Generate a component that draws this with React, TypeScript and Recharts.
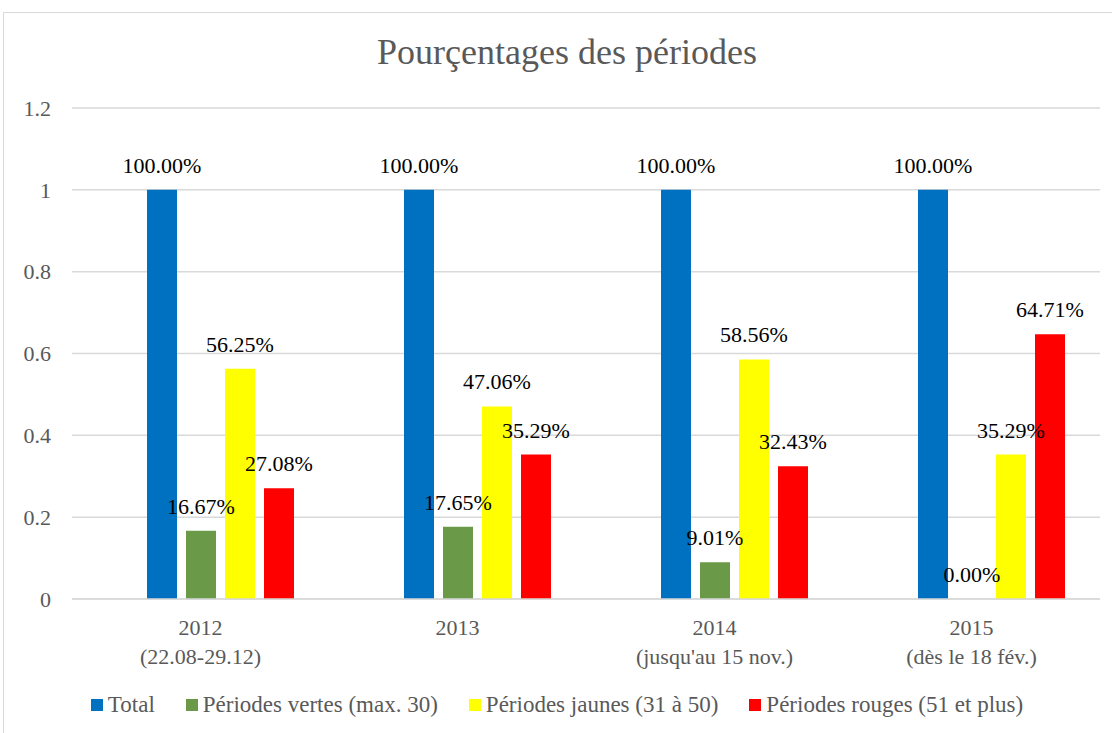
import { Bar, BarChart, CartesianGrid, LabelList, Legend, XAxis, YAxis } from "recharts";

const YEARS = ["2012", "2013", "2014", "2015"];
const PERIODS = ["(22.08-29.12)", "", "(jusqu'au 15 nov.)", "(dès le 18 fév.)"];
// the original sheet has an empty first series: it keeps an empty slot left of "Total"
const EMPTY = [null, null, null, null];
const TOTAL = [1, 1, 1, 1];
const VERTES = [0.1667, 0.1765, 0.0901, 0];
const JAUNES = [0.5625, 0.4706, 0.5856, 0.3529];
const ROUGES = [0.2708, 0.3529, 0.3243, 0.6471];
const Y_TICKS = [0, 0.2, 0.4, 0.6, 0.8, 1, 1.2];

const SERIES = [
  { key: "total", name: "Total", color: "#0070C0" },
  { key: "vertes", name: "Périodes vertes (max. 30)", color: "#6A9A48" },
  { key: "jaunes", name: "Périodes jaunes (31 à 50)", color: "#FFFF00" },
  { key: "rouges", name: "Périodes rouges (51 et plus)", color: "#FF0000" },
];

const data = YEARS.map((y, i) => ({
  year: y,
  empty: EMPTY[i],
  total: TOTAL[i],
  vertes: VERTES[i],
  jaunes: JAUNES[i],
  rouges: ROUGES[i],
}));

const FONT = "'Liberation Serif', 'DejaVu Serif', serif";
const GREY = "#595959";

function fmtPct(v: unknown) {
  return `${(Number(v) * 100).toFixed(2)}%`;
}

function YearTick({ x, y, payload }: any) {
  const sub = PERIODS[YEARS.indexOf(payload.value)];
  return (
    <text x={x} y={y} textAnchor="middle" fill={GREY} fontSize={22} style={{ fontFamily: FONT }}>
      <tspan x={x} dy={28}>{payload.value}</tspan>
      {sub ? <tspan x={x} dy={29}>{sub}</tspan> : null}
    </text>
  );
}

function TopLabel({ x, y, width, value }: any) {
  if (value == null) return null;
  return (
    <text
      x={Number(x) + Number(width) / 2}
      y={Number(y) - 17}
      textAnchor="middle"
      fill="#000"
      fontSize={22}
      style={{ fontFamily: FONT }}
    >
      {fmtPct(value)}
    </text>
  );
}

function LegendContent() {
  return (
    <div
      style={{
        display: "flex",
        justifyContent: "center",
        gap: 31,
        fontFamily: FONT,
        fontSize: 23,
        color: GREY,
        height: 50,
        paddingTop: 9,
        boxSizing: "border-box",
        paddingLeft: 14,
      }}
    >
      {SERIES.map(s => (
        <div key={s.key} style={{ display: "flex", alignItems: "center", gap: 5, height: 26 }}>
          <span style={{ width: 12, height: 12, background: s.color, display: "inline-block" }} />
          <span>{s.name}</span>
        </div>
      ))}
    </div>
  );
}

export default function App() {
  return (
    <div
      style={{
        position: "absolute",
        left: 0,
        top: 0,
        width: 1112,
        height: 733,
        background: "#fff",
        overflow: "hidden",
        fontFamily: FONT,
      }}
    >
      <div
        style={{
          position: "absolute",
          left: 3,
          top: 12,
          width: 1200,
          height: 800,
          border: "1px solid #d9d9d9",
          boxSizing: "border-box",
        }}
      />
      <div
        style={{
          position: "absolute",
          left: 0,
          width: 1134,
          top: 31,
          textAlign: "center",
          fontSize: 36,
          color: GREY,
        }}
      >
        Pourçentages des périodes
      </div>
      <div style={{ position: "absolute", left: 0, top: 0 }}>
        <BarChart
          width={1112}
          height={733}
          data={data}
          margin={{ top: 108, right: 12, bottom: 0, left: 0 }}
          barSize={30}
          barGap={9}
          style={{ fontFamily: FONT }}
        >
          <CartesianGrid vertical={false} stroke="#d9d9d9" strokeWidth={1.5} />
          <XAxis
            dataKey="year"
            tick={<YearTick />}
            tickLine={false}
            axisLine={{ stroke: "#d9d9d9", strokeWidth: 1.5 }}
            height={84}
            interval={0}
          />
          <YAxis
            width={72}
            domain={[0, 1.2]}
            ticks={Y_TICKS}
            tickFormatter={(v) => String(v)}
            tick={{ fill: GREY, fontSize: 22, style: { fontFamily: FONT } }}
            tickLine={false}
            axisLine={false}
            tickSize={0}
            tickMargin={21}
          />
          <Legend content={<LegendContent />} verticalAlign="bottom" wrapperStyle={{ bottom: 0 }} />
          <Bar dataKey="empty" legendType="none" fill="none" isAnimationActive={false} />
          {SERIES.map(s => (
            <Bar
              key={s.key}
              dataKey={s.key}
              name={s.name}
              fill={s.color}
              minPointSize={0.01}
              isAnimationActive={false}
            >
              <LabelList dataKey={s.key} content={<TopLabel />} />
            </Bar>
          ))}
        </BarChart>
      </div>
    </div>
  );
}
